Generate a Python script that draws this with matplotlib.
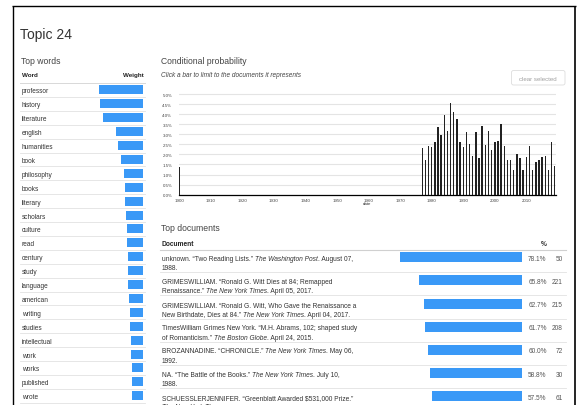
import matplotlib
matplotlib.use("Agg")
import matplotlib.pyplot as plt
from matplotlib.transforms import blended_transform_factory
from matplotlib.patches import FancyBboxPatch

plt.rcParams['font.family'] = ['Liberation Sans', 'DejaVu Sans']

# ---------------- data ----------------
title = "Topic 24"

words = ["professor", "history", "literature", "english", "humanities", "book",
         "philosophy", "books", "literary", "scholars", "culture", "read",
         "century", "study", "language", "american", "writing", "studies",
         "intellectual", "work", "works", "published", "wrote"]
word_weights = [44.0, 43.8, 40.3, 27.3, 25.0, 22.0, 19.7, 18.7, 18.3, 17.7,
                16.3, 16.3, 15.3, 15.0, 15.0, 14.3, 13.7, 13.3, 12.7, 12.3,
                11.3, 11.0, 11.0]

years = [1900] + list(range(1977, 2020))
cond_prob = [1.40,
             2.30, 1.71, 2.43, 2.38, 2.60, 3.37, 2.97, 3.97, 3.15, 4.55,
             4.12, 3.77, 2.62, 2.37, 3.11, 2.50, 1.90, 3.10, 1.83, 3.43,
             2.48, 3.16, 2.23, 2.64, 2.65, 3.52, 2.43, 1.70, 1.71, 1.22,
             2.02, 1.82, 1.25, 1.89, 2.44, 1.24, 1.61, 1.72, 1.87, 1.92,
             1.23, 2.61, 1.44]
y_ticks = [0.0, 0.5, 1.0, 1.5, 2.0, 2.5, 3.0, 3.5, 4.0, 4.5, 5.0]
y_tick_labels = ["0.0%", "0.5%", "1.0%", "1.5%", "2.0%", "2.5%", "3.0%",
                 "3.5%", "4.0%", "4.5%", "5.0%"]
x_ticks = [1900, 1910, 1920, 1930, 1940, 1950, 1960, 1970, 1980, 1990, 2000, 2010]
x_tick_labels = ["1900", "1910", "1920", "1930", "1940", "1950", "1960",
                 "1970", "1980", "1990", "2000", "2010"]

doc_lines = [
    [[("unknown. \u201cTwo Reading Lists.\u201d ", "normal"), ("The Washington Post", "italic"), (". August 07,", "normal")],
     [("1988.", "normal")]],
    [[("GRIMESWILLIAM. \u201cRonald G. Witt Dies at 84; Remapped", "normal")],
     [("Renaissance.\u201d ", "normal"), ("The New York Times", "italic"), (". April 05, 2017.", "normal")]],
    [[("GRIMESWILLIAM. \u201cRonald G. Witt, Who Gave the Renaissance a", "normal")],
     [("New Birthdate, Dies at 84.\u201d ", "normal"), ("The New York Times", "italic"), (". April 04, 2017.", "normal")]],
    [[("TimesWilliam Grimes New York. \u201cM.H. Abrams, 102; shaped study", "normal")],
     [("of Romanticism.\u201d ", "normal"), ("The Boston Globe", "italic"), (". April 24, 2015.", "normal")]],
    [[("BROZANNADINE. \u201cCHRONICLE.\u201d ", "normal"), ("The New York Times", "italic"), (". May 06,", "normal")],
     [("1992.", "normal")]],
    [[("NA. \u201cThe Battle of the Books.\u201d ", "normal"), ("The New York Times", "italic"), (". July 10,", "normal")],
     [("1988.", "normal")]],
    [[("SCHUESSLERJENNIFER. \u201cGreenblatt Awarded \\$531,000 Prize.\u201d", "normal")],
     [("The New York Times", "italic"), (". March 12, 2016.", "normal")]],
]
doc_pct = [78.1, 65.8, 62.7, 61.7, 60.0, 58.8, 57.5]
doc_counts = [50, 221, 215, 208, 72, 30, 61]

# ---------------- styling ----------------
W, H = 577, 406
BLUE = "#3a99f7"
TXT = "#333333"
SEP = "#e2e2e2"

fig = plt.figure(figsize=(W / 100, H / 100), dpi=100)
fig.patch.set_facecolor("white")


def px_axes(x0, y0, x1, y1, z=2):
    ax = fig.add_axes([x0 / W, 1 - y1 / H, (x1 - x0) / W, (y1 - y0) / H], zorder=z)
    ax.patch.set_alpha(0)
    return ax


bg = fig.add_axes([0, 0, 1, 1], zorder=0)
bg.set_xlim(0, W)
bg.set_ylim(H, 0)
bg.axis("off")

# frame
bg.plot([12.7, 12.7], [6.7, H], color="black", lw=1.0, solid_capstyle="butt")
bg.plot([12.0, 575.5], [6.7, 6.7], color="black", lw=1.0, solid_capstyle="butt")
bg.plot([575.0, 575.0], [6.7, H], color="black", lw=1.2, solid_capstyle="butt")

# titles
bg.text(20.5, 39.5, title, fontsize=10, color=TXT, va="baseline")
bg.text(21, 63.5, "Top words", fontsize=6.2, color="#444", va="baseline")
bg.text(161, 63.5, "Conditional probability", fontsize=6.2, color="#444", va="baseline")
bg.text(161, 77, "Click a bar to limit to the documents it represents", fontsize=4.7,
        style="italic", color="#444", va="baseline")
bg.text(161, 231, "Top documents", fontsize=6.2, color="#444", va="baseline")

# clear selected button
bg.add_patch(FancyBboxPatch((511.5, 71.5), 53.5, 14.5, boxstyle="round,pad=0,rounding_size=2",
                            fc="white", ec="#dddddd", lw=0.6))
bg.text(538.2, 78.8, "clear selected", fontsize=4.4, color="#a0a0a0", ha="center",
        va="center_baseline")

# ---------------- top words ----------------
ax_w = px_axes(143.3 - 44.0, 84.0, 143.3, 84.0 + 13.9 * len(words))
ax_w.barh(range(len(words)), word_weights, height=0.65, color=BLUE)
ax_w.set_xlim(44.0, 0)
ax_w.set_ylim(len(words) - 0.5, -0.5)
ax_w.axis("off")

tw = blended_transform_factory(bg.transData, ax_w.transData)
bg.text(22, -1.15, "Word", transform=tw, fontsize=4.5, fontweight="bold", color="#222",
        va="center_baseline")
bg.text(143.3, -1.15, "Weight", transform=tw, fontsize=4.5, fontweight="bold", color="#222",
        va="center_baseline", ha="right")
bg.plot([20, 145], [-0.5, -0.5], transform=tw, color="#d8d8d8", lw=0.7)
for i, w in enumerate(words):
    bg.text(22, i, w, transform=tw, fontsize=4.7, color=TXT, va="center_baseline")
    bg.plot([20, 145], [i + 0.5, i + 0.5], transform=tw, color=SEP, lw=0.6)

# ---------------- conditional probability ----------------
ax_t = px_axes(179.0, 92.0, 556.0, 195.7, z=2)
ax_t.bar(years, cond_prob, width=0.45, color="#222222", zorder=3)
ax_t.set_xlim(1899.9, 2019.4)
ax_t.set_ylim(0, 5.15)
ax_t.set_yticks(y_ticks)
ax_t.set_yticklabels(y_tick_labels)
ax_t.set_xticks(x_ticks)
ax_t.set_xticklabels(x_tick_labels)
ax_t.yaxis.grid(True, color="#e4e4e4", lw=0.8)
ax_t.set_axisbelow(True)
for s in ("left", "top", "right"):
    ax_t.spines[s].set_visible(False)
ax_t.spines["bottom"].set_color("black")
ax_t.spines["bottom"].set_linewidth(0.9)
ax_t.tick_params(axis="y", length=0, labelsize=3.2, labelcolor="#444", pad=4.8)
ax_t.tick_params(axis="x", length=0, labelsize=3.2, labelcolor="#444", pad=2.5)
ax_t.set_xlabel("date", fontsize=3.2, color="#333", labelpad=-0.5)

# ---------------- top documents ----------------
row_h = 23.17
ax_d = px_axes(522 - 156.6, 258.3 - row_h / 2, 522, 258.3 - row_h / 2 + row_h * len(doc_pct))
ax_d.barh(range(len(doc_pct)), doc_pct, height=10 / row_h, color=BLUE)
ax_d.set_xlim(100, 0)
ax_d.set_ylim(len(doc_pct) - 0.5, -0.5)
ax_d.axis("off")

td = blended_transform_factory(bg.transData, ax_d.transData)
hdr_y = -0.63
bg.text(162, hdr_y, "Document", transform=td, fontsize=4.8, fontweight="bold", color="#222",
        va="center_baseline")
bg.text(546.5, hdr_y, "%", transform=td, fontsize=4.8, fontweight="bold", color="#333",
        va="center_baseline", ha="right")
bg.plot([160, 566], [-0.315, -0.315], transform=td, color="#d0d0d0", lw=0.8)
for i in range(len(doc_pct)):
    bg.plot([160, 566], [i + 0.647, i + 0.647], transform=td, color=SEP, lw=0.6)
    bg.text(546.7, i, f"{doc_pct[i]:.1f}%", transform=td, fontsize=4.7, color="#555",
            ha="right", va="center_baseline")
    bg.text(562.7, i, f"{doc_counts[i]}", transform=td, fontsize=4.7, color="#555",
            ha="right", va="center_baseline")

renderer = fig.canvas.get_renderer()


def text_width(s, style, size):
    t1 = bg.text(0, 0, "|" + s + "|", fontsize=size, style=style)
    t2 = bg.text(0, 0, "||", fontsize=size, style=style)
    w = t1.get_window_extent(renderer).width - t2.get_window_extent(renderer).width
    t1.remove()
    t2.remove()
    return w


def rich(x, y, parts, size=4.75):
    cur = x
    for s, style in parts:
        bg.text(cur, y, s, fontsize=size, style=style, color=TXT, va="center_baseline")
        cur += text_width(s, style, size)


for i, lines in enumerate(doc_lines):
    y0 = H - ax_d.transData.transform((0, i))[1]
    for k, parts in enumerate(lines):
        rich(162, y0 + k * 9.4, parts)

fig.savefig("out.png", dpi=100, facecolor="white")
